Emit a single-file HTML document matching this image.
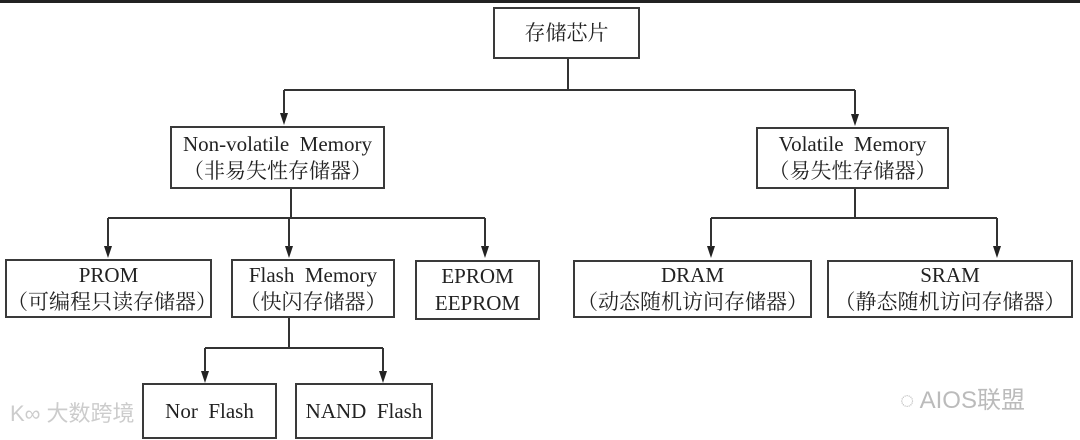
<!DOCTYPE html>
<html><head><meta charset="utf-8"><style>
html,body{margin:0;padding:0;background:#fff;}
body{width:1080px;height:440px;position:relative;overflow:hidden;font-family:"Liberation Serif","Noto Serif CJK SC",serif;color:#222;}
.b{position:absolute;border:2px solid #3a3a3a;box-sizing:border-box;text-align:center;font-size:21px;line-height:27px;display:flex;flex-direction:column;justify-content:center;background:#fff;white-space:nowrap;}
.wm{position:absolute;color:#ccc;font-family:"Liberation Sans","Noto Sans CJK SC",sans-serif;}
</style></head><body>
<div style="position:absolute;left:0;top:0;width:1080px;height:3px;background:#222"></div>
<svg width="1080" height="440" style="position:absolute;left:0;top:0">
<g stroke="#333" stroke-width="2" fill="none">
<path d="M568,59 V90 M284,90 H855"/>
<path d="M291,188 V218 M108,218 H485"/>
<path d="M855,188 V218 M711,218 H997"/>
<path d="M289,318 V348 M205,348 H383"/>
</g>
<g fill="#222">
<path d="M280,113 h8 l-4,12z M851,114 h8 l-4,12z"/>
<path d="M104,246 h8 l-4,12z M285,246 h8 l-4,12z M481,246 h8 l-4,12z"/>
<path d="M707,246 h8 l-4,12z M993,246 h8 l-4,12z"/>
<path d="M201,371 h8 l-4,12z M379,371 h8 l-4,12z"/>
</g>
<g stroke="#333" stroke-width="2">
<line x1="284" y1="90" x2="284" y2="114"/><line x1="855" y1="90" x2="855" y2="115"/>
<line x1="108" y1="218" x2="108" y2="247"/><line x1="289" y1="218" x2="289" y2="247"/><line x1="485" y1="218" x2="485" y2="247"/>
<line x1="711" y1="218" x2="711" y2="247"/><line x1="997" y1="218" x2="997" y2="247"/>
<line x1="205" y1="348" x2="205" y2="372"/><line x1="383" y1="348" x2="383" y2="372"/>
</g>
</svg>
<div class="b" style="left:493px;top:7px;width:147px;height:52px">存储芯片</div>
<div class="b" style="left:170px;top:126px;width:215px;height:63px">Non-volatile&nbsp; Memory<br>（非易失性存储器）</div>
<div class="b" style="left:756px;top:127px;width:193px;height:62px">Volatile&nbsp; Memory<br>（易失性存储器）</div>
<div class="b" style="left:5px;top:259px;width:207px;height:59px">PROM<br>（可编程只读存储器）</div>
<div class="b" style="left:231px;top:259px;width:164px;height:59px">Flash&nbsp; Memory<br>（快闪存储器）</div>
<div class="b" style="left:415px;top:260px;width:125px;height:60px">EPROM<br>EEPROM</div>
<div class="b" style="left:573px;top:260px;width:239px;height:58px">DRAM<br>（动态随机访问存储器）</div>
<div class="b" style="left:827px;top:260px;width:246px;height:58px">SRAM<br>（静态随机访问存储器）</div>
<div class="b" style="left:142px;top:383px;width:135px;height:56px">Nor&nbsp; Flash</div>
<div class="b" style="left:295px;top:383px;width:138px;height:56px">NAND&nbsp; Flash</div>
<div class="wm" style="left:10px;top:396px;font-size:22px">K∞ 大数跨境</div>
<div class="wm" style="left:900px;top:380px;font-size:24px;color:#bbb">◌ AIOS联盟</div>
</body></html>
